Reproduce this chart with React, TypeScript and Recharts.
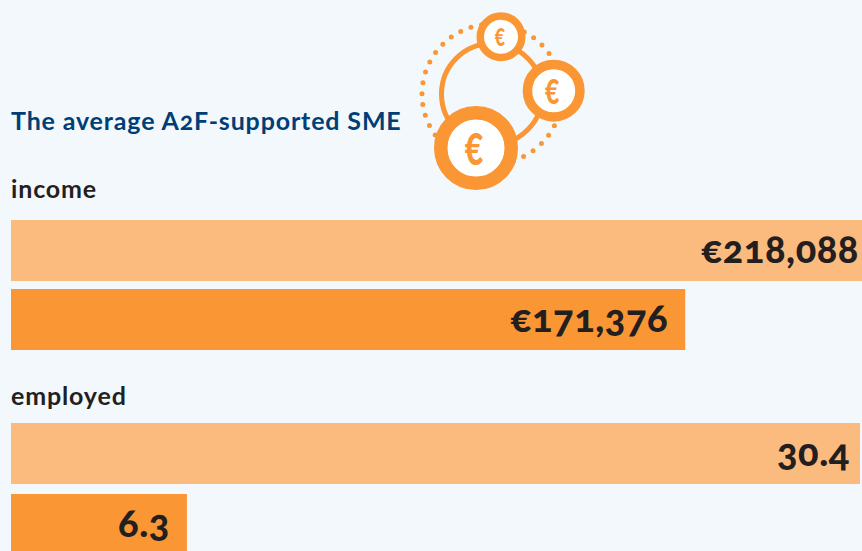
import React from 'react';
import { BarChart, Bar, Cell, XAxis, YAxis, LabelList } from 'recharts';

const groups = ['supported', 'average'];
const incomeValues = [218088, 171376];
const employedValues = [30.4, 6.3];

const BG = '#f3f8fc';
const LIGHT = '#fcbb7e';
const DARK = '#fa9633';
const INK = '#231f20';
const FONT = 'Lato, sans-serif';

const incomeData = groups.map((name, i) => ({ name, value: incomeValues[i] }));
const employedData = groups.map((name, i) => ({ name, value: employedValues[i] }));

const formatEuro = (v: number) => '€' + v.toLocaleString('en-US');

const ValueLabel = ({ x, y, width, height, value, index, format }: any) => (
    <text
        x={x + width - (index === 0 ? 10 : 17)}
        y={y + height / 2 + 12}
        textAnchor="end"
        fontFamily={FONT}
        fontSize={38}
        fontWeight={900}
        fill={INK}
        style={{ fontFeatureSettings: '"onum"', letterSpacing: 0.6 }}
    >
        {format ? format(value) : value}
    </text>
);

const MetricBars = ({ data, width, height, top, format }: any) => (
    <div style={{ position: 'absolute', left: 11, top }}>
        <BarChart
            width={width}
            height={height}
            data={data}
            layout="vertical"
            margin={{ top: 0, right: 0, bottom: 0, left: 0 }}
        >
            <XAxis type="number" hide domain={[0, data[0].value]} />
            <YAxis type="category" dataKey="name" hide />
            <Bar dataKey="value" barSize={61} isAnimationActive={false}>
                {data.map((_: any, i: number) => (
                    <Cell key={i} fill={i === 0 ? LIGHT : DARK} />
                ))}
                <LabelList dataKey="value" content={(p: any) => <ValueLabel {...p} format={format} />} />
            </Bar>
        </BarChart>
    </div>
);

// coin icon next to the title
const Coin = ({ cx, cy, r, ring, size }: any) => (
    <g>
        <circle cx={cx} cy={cy} r={r - ring / 2} fill="#fff" stroke={DARK} strokeWidth={ring} />
        <text
            transform={`translate(${cx - size * 0.05} ${cy + size * 0.42}) scale(0.8 1.1)`}
            textAnchor="middle"
            fontFamily={FONT}
            fontSize={size}
            fontWeight={900}
            fill={DARK}
        >
            €
        </text>
    </g>
);

const CoinsIcon = () => (
    <svg width={200} height={200} viewBox="400 0 200 200" style={{ position: 'absolute', left: 400, top: 0 }}>
        <circle cx={492} cy={94} r={70} fill="none" stroke={DARK} strokeWidth={5} strokeLinecap="round" strokeDasharray="0 10.996" />
        <circle cx={492} cy={94} r={50.5} fill="none" stroke={DARK} strokeWidth={5} />
        <Coin cx={501} cy={36.7} r={24.5} ring={7.5} size={22} />
        <Coin cx={553.7} cy={90.7} r={31} ring={9.5} size={31} />
        <Coin cx={476} cy={148} r={42} ring={13.5} size={40} />
    </svg>
);

const headingStyle: React.CSSProperties = {
    position: 'absolute',
    left: 11,
    fontFamily: FONT,
    fontWeight: 700,
    whiteSpace: 'nowrap',
    fontSize: 25,
    lineHeight: '32px',
    letterSpacing: 0.85,
};

export default function App() {
    return (
        <div style={{ position: 'relative', width: 862, height: 551, background: BG, overflow: 'hidden' }}>
            <style>{'html,body{margin:0;padding:0;overflow:hidden}'}</style>
            <CoinsIcon />
            <div style={{ ...headingStyle, top: 104, color: '#003e78', fontFeatureSettings: '"onum"' }}>
                The average A2F-supported SME
            </div>
            <div style={{ ...headingStyle, top: 172, color: INK }}>income</div>
            <MetricBars data={incomeData} width={858} height={138} top={216} format={formatEuro} />
            <div style={{ ...headingStyle, top: 379, color: INK }}>employed</div>
            <MetricBars data={employedData} width={849} height={142} top={418} />
        </div>
    );
}
